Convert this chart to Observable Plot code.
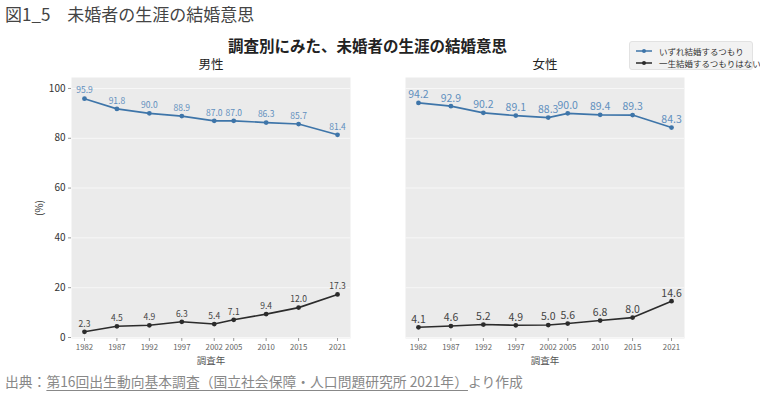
<!DOCTYPE html>
<html>
<head>
<meta charset="utf-8">
<script src="https://cdn.jsdelivr.net/npm/d3@7"></script>
<script src="https://cdn.jsdelivr.net/npm/@observablehq/plot@0.6"></script>
<style>
  html, body { margin: 0; padding: 0; background: #fff; }
  #wrap { position: relative; width: 760px; height: 394px; font-family: "Noto Sans CJK JP", "Noto Sans", sans-serif; color: #333; overflow: hidden; }
  .abs { position: absolute; white-space: nowrap; }
  #fig { left: 5px; top: 1px; font-size: 17px; color: #444; }
  #title { left: 0; width: 735px; text-align: center; top: 34px; font-size: 15.5px; font-weight: bold; color: #222; }
  #legend { left: 629px; top: 41px; width: 122px; height: 27px; background: #f2f2f2; border: 1px solid #e2e2e2; border-radius: 3px; font-size: 8.5px; color: #333; }
  #legend .row { position: absolute; left: 5px; display: flex; align-items: center; }
  #legend svg { margin-right: 6px; }
  #caption { left: 5px; top: 371px; font-size: 13.8px; color: #888; }
  #caption span { text-decoration: underline; text-underline-offset: 3px; }
  #chart { left: 0; top: 50px; }
</style>
</head>
<body>
<div id="wrap">
  <div id="fig" class="abs">図1_5　未婚者の生涯の結婚意思</div>
  <div id="title" class="abs">調査別にみた、未婚者の生涯の結婚意思</div>
  <div id="legend" class="abs"></div>
  <div id="chart" class="abs"></div>
  <div id="caption" class="abs">出典：<span>第16回出生動向基本調査（国立社会保障・人口問題研究所 2021年）</span>より作成</div>
</div>
<script>
const years = [1982, 1987, 1992, 1997, 2002, 2005, 2010, 2015, 2021];
const sexes = ["男性", "女性"];
const seriesNames = ["いずれ結婚するつもり", "一生結婚するつもりはない"];
const seriesColors = ["#3e75a9", "#2b2b2b"];
const labelColors = ["#5f8fbe", "#444444"];
const maleWill = [95.9, 91.8, 90.0, 88.9, 87.0, 87.0, 86.3, 85.7, 81.4];
const maleNever = [2.3, 4.5, 4.9, 6.3, 5.4, 7.1, 9.4, 12.0, 17.3];
const femaleWill = [94.2, 92.9, 90.2, 89.1, 88.3, 90.0, 89.4, 89.3, 84.3];
const femaleNever = [4.1, 4.6, 5.2, 4.9, 5.0, 5.6, 6.8, 8.0, 14.6];
const yTicks = [0, 20, 40, 60, 80, 100];

const data = [];
const add = (sex, series, vals) => vals.forEach((v, i) => data.push({sex, series, year: years[i], value: v}));
add("男性", seriesNames[0], maleWill);
add("男性", seriesNames[1], maleNever);
add("女性", seriesNames[0], femaleWill);
add("女性", seriesNames[1], femaleNever);

const maleData = data.filter(d => d.sex === "男性");
const femaleData = data.filter(d => d.sex === "女性");

const plot = Plot.plot({
  width: 760,
  height: 320,
  marginLeft: 70,
  marginRight: 75,
  marginTop: 27,
  marginBottom: 32,
  style: {fontFamily: "'Noto Sans CJK JP', 'Noto Sans', sans-serif", fontSize: "9px", color: "#444", background: "transparent"},
  fx: {domain: sexes, paddingInner: 0.164, paddingOuter: 0, label: null},
  x: {domain: [1980, 2023], label: null},
  y: {domain: [-0.4, 104.4], label: null},
  color: {domain: seriesNames, range: seriesColors},
  marks: [
    Plot.frame({fill: "#ebebeb", stroke: null}),
    Plot.gridY(yTicks, {stroke: "#f7f7f7", strokeOpacity: 1, strokeWidth: 1}),
    Plot.axisFx({anchor: "top", tickSize: 0, tickPadding: 9, label: null, fontSize: 12.5, fill: "#222"}),
    Plot.axisY(yTicks, {anchor: "left", tickSize: 3, tickPadding: 3, fontSize: 10, fill: "#333", stroke: "#999", label: "(%)", labelAnchor: "center", labelArrow: "none", labelOffset: 36}),
    Plot.axisX(years, {anchor: "bottom", tickSize: 3, tickPadding: 3, fontSize: 7.8, fill: "#666", stroke: "#999", tickFormat: d => String(d), label: null}),
    Plot.text(["調査年"], {frameAnchor: "bottom", dy: 25, fontSize: 9.5, fill: "#555"}),
    Plot.line(data, {fx: "sex", x: "year", y: "value", z: "series", stroke: "series", strokeWidth: 1.6}),
    Plot.dot(data, {fx: "sex", x: "year", y: "value", fill: "series", r: 2.4}),
    Plot.text(maleData, {fx: "sex", x: "year", y: "value", text: d => d.value.toFixed(1), dy: -8, fontSize: 8.5,
      fill: d => d.series === seriesNames[0] ? labelColors[0] : labelColors[1]}),
    Plot.text(femaleData, {fx: "sex", x: "year", y: "value", text: d => d.value.toFixed(1), dy: -8, fontSize: 10.5,
      fill: d => d.series === seriesNames[0] ? labelColors[0] : labelColors[1]})
  ]
});
document.getElementById("chart").appendChild(plot);

// legend
const legend = document.getElementById("legend");
seriesNames.forEach((name, i) => {
  const row = document.createElement("div");
  row.className = "row";
  row.style.top = (3 + i * 12) + "px";
  row.innerHTML = `<svg width="18" height="8"><line x1="1" x2="17" y1="4" y2="4" stroke="${seriesColors[i]}" stroke-width="1.5"/><circle cx="9" cy="4" r="2" fill="${seriesColors[i]}"/></svg><span>${name}</span>`;
  legend.appendChild(row);
});
</script>
</body>
</html>
